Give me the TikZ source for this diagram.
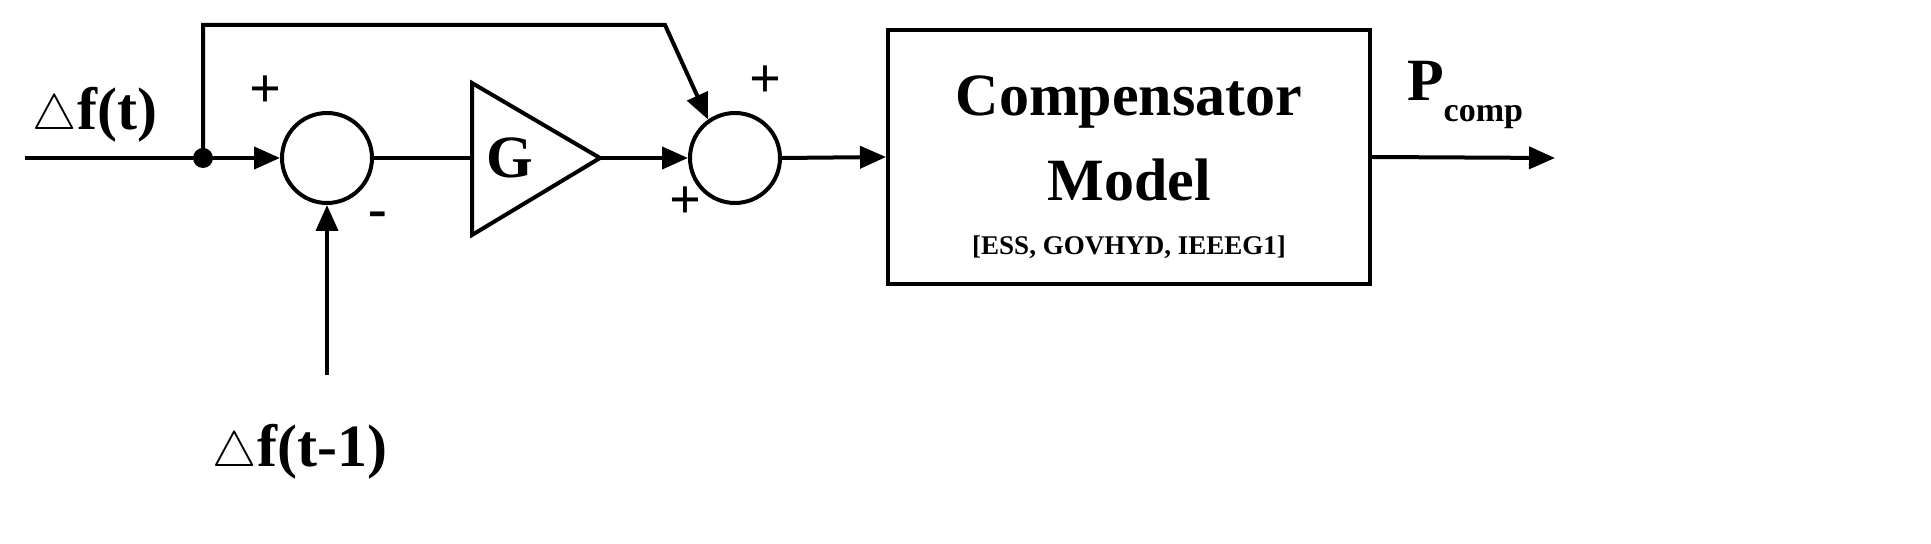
\documentclass[tikz,border=0pt]{standalone}
\usepackage{fontspec}
\setmainfont{Liberation Serif}
\usetikzlibrary{arrows.meta}
\begin{document}
\begin{tikzpicture}[x=0.5pt,y=-0.5pt,
  line width=2pt,
  arr/.style={-{Triangle[length=13pt,width=11pt]}},
  sum/.style={circle,draw,minimum size=45pt,inner sep=0pt},
  lbl/.style={font=\bfseries\fontsize{30}{34}\selectfont},
  sgn/.style={font=\bfseries\fontsize{28}{30}\selectfont}]
\useasboundingbox (0,0) rectangle (1931,544);
\node[sum] (s1) at (327,158) {};
\node[sum] (s2) at (735,158) {};
\node[draw,minimum width=241pt,minimum height=127pt,inner sep=0pt] (box) at (1129,157) {};
\node[lbl] at (1129,102) {Compensator};
\node[lbl] at (1129,180) {Model};
\node[font=\bfseries\fontsize{13.5}{15}\selectfont] at (1129,247) {[ESS, GOVHYD, IEEEG1]};
\coordinate (in) at (25,158);
\coordinate (dot) at (203,158);
\coordinate (tip) at (600,158);
\coordinate (out) at (1555,158);
\coordinate (bot) at (327,375);
\coordinate (c1) at (203,25);
\coordinate (c2) at (665,25);
\draw (472,83) -- (tip) -- (472,235) -- cycle;
\node[lbl] at (510,158) {G};
\draw (in) -- (dot);
\draw[arr] (dot) -- (s1.west);
\fill (dot) circle (5pt);
\draw[arr] (dot) -- (c1) -- (c2) -- (s2.125);
\draw (s1.east) -- (472,158);
\draw[arr] (tip) -- (s2.west);
\draw[arr] (s2.east) -- (box.west);
\draw[arr] (box.east) -- (out);
\draw[arr] (bot) -- (s1.south);
\node[lbl] at (95,115) {$\triangle$f(t)};
\node[lbl] at (300,452) {$\triangle$f(t-1)};
\node[lbl] at (1465,95) {P\raisebox{-0.35em}{\fontsize{17}{19}\selectfont comp}};
\node[sgn] at (265,92) {+};
\node[sgn] at (378,220) {-};
\node[sgn] at (765,82) {+};
\node[sgn] at (685,203) {+};
\end{tikzpicture}
\end{document}
